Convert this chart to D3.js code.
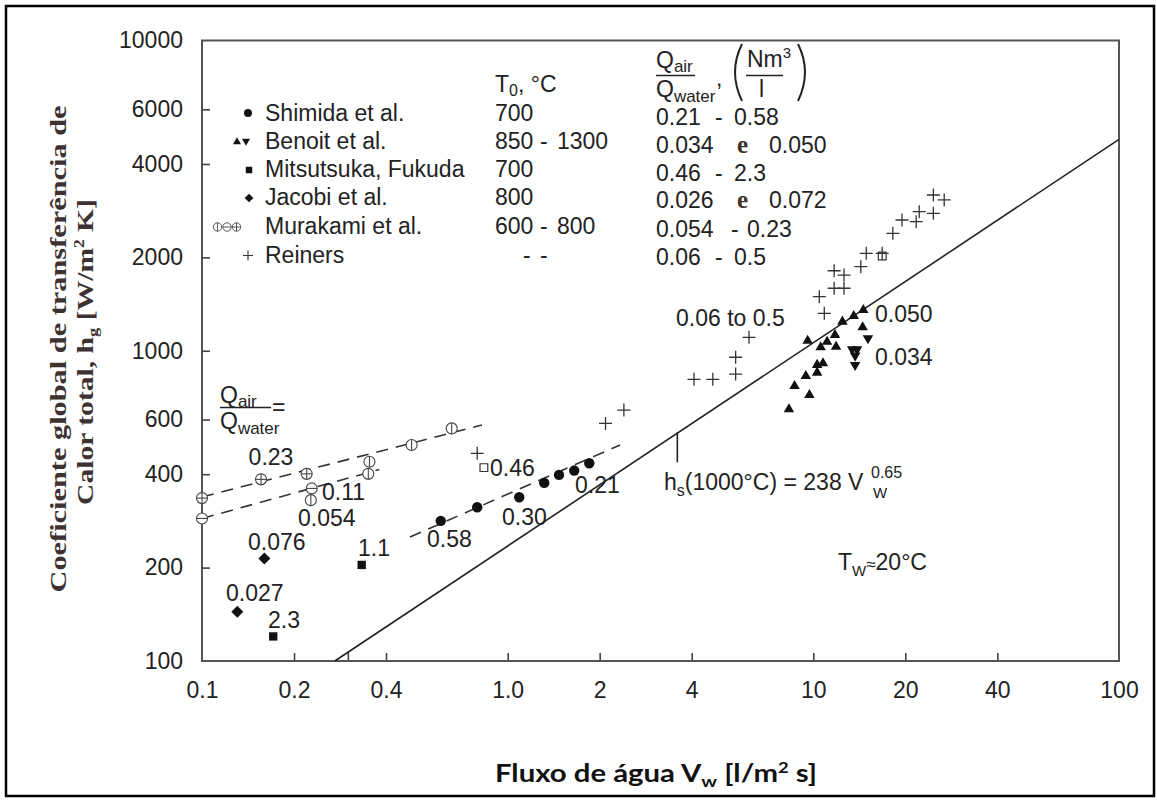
<!DOCTYPE html>
<html><head><meta charset="utf-8">
<script src="https://cdn.jsdelivr.net/npm/d3@7"></script>
<style>body{margin:0;background:#fff} svg{display:block}</style>
</head><body>
<svg id="c" width="1157" height="801"></svg>
<script>
// ---------------- data ----------------
const xTickValues = [0.2, 0.3, 0.4, 1, 2, 4, 10, 20, 40];
const xLabelValues = [0.1, 0.2, 0.4, 1, 2, 4, 10, 20, 40, 100];
const xLabelTexts = ["0.1", "0.2", "0.4", "1.0", "2", "4", "10", "20", "40", "100"];
const yTickValues = [200, 400, 600, 1000, 2000, 4000, 6000];
const yLabelValues = [100, 200, 400, 600, 1000, 2000, 4000, 6000, 10000];

const shimida = [[0.604,283],[0.795,313],[1.091,337],[1.317,375],[1.472,398],[1.651,411],[1.849,434]];
const benoitUp = [[8.32,648],[8.68,770],[9.71,720],[9.45,829],[9.58,1077],[10.29,850],[10.29,900],[10.75,911],
  [10.57,1026],[11.09,1069],[11.77,1124],[11.87,1030],[12.45,1241],[13.56,1294],[14.57,1353],[14.5,1190]];
const benoitDown = [[15.09,1097],[13.4,1010],[13.9,1010],[13.7,965],[13.7,900]];
const mitsutsuka = [[0.333,204],[0.171,120]];
const mitsutsukaOpen = [[0.836,420],[16.8,2020]];
const jacobi = [[0.16,214],[0.1305,144]];
const murakamiPlus = [[0.1,335],[0.156,385],[0.22,401]];
const murakamiMinus = [[0.1,288],[0.2285,360]];
const murakamiBar = [[0.227,330],[0.353,439],[0.35,401],[0.485,497],[0.656,562]];
const reiners = [[0.795,467],[2.09,583],[2.40,644],[4.07,809],[4.69,809],[5.57,841],[5.57,953],[6.16,1105],
  [10.86,1320],[10.46,1494],[11.7,1590],[12.6,1590],[11.7,1811],[12.6,1754],[14.3,1866],[14.9,2061],[16.8,2061],
  [18.2,2391],[19.5,2639],[21.7,2606],[22.2,2807],[24.7,2773],[24.7,3177],[26.8,3062]];

const murakamiLineUpper = [[0.1,338],[0.824,576]];
const murakamiLineLower = [[0.1,288],[0.38,414]];
const shimidaLine = [[0.479,251],[2.33,497]];
const correlationLine = [[0.272,100],[100,4800]];
const correlationMarker = 3.59;   // V_w where the label leader meets the line
const correlationMarkerValue = 546;

// ---------------- drawing ----------------
const svg = d3.select("#c");
const FONT = "'Liberation Sans', Arial, Helvetica, sans-serif";
const SERIF = "'Liberation Serif', 'Times New Roman', serif";
const INK = "#222";
const x = d3.scaleLog().domain([0.1, 100]).range([202, 1119]);
const y = d3.scaleLog().domain([100, 10000]).range([661, 40.5]);

// outer border
svg.append("rect").attr("x", 6).attr("y", 6).attr("width", 1148).attr("height", 790)
  .attr("fill", "none").attr("stroke", "#000").attr("stroke-width", 2.5);

// frame
svg.append("rect").attr("x", x(0.1)).attr("y", y(10000))
  .attr("width", x(100) - x(0.1)).attr("height", y(100) - y(10000))
  .attr("fill", "none").attr("stroke", "#555").attr("stroke-width", 2);

// ticks
const gx = svg.append("g").attr("transform", `translate(0,${y(100)})`)
  .call(d3.axisBottom(x).tickValues(xTickValues).tickSize(-8).tickFormat(() => ""));
const gy = svg.append("g").attr("transform", `translate(${x(0.1)},0)`)
  .call(d3.axisLeft(y).tickValues(yTickValues).tickSize(-8).tickFormat(() => ""));
[gx, gy].forEach(g => { g.select(".domain").remove(); g.selectAll("line").attr("stroke", "#444").attr("stroke-width", 1.6); });

// tick labels
const lx = svg.append("g").attr("transform", `translate(0,${y(100)})`)
  .call(d3.axisBottom(x).tickValues(xLabelValues).tickSize(0).tickPadding(21).tickFormat((d, i) => xLabelTexts[i]));
const ly = svg.append("g").attr("transform", `translate(${x(0.1)},0)`)
  .call(d3.axisLeft(y).tickValues(yLabelValues).tickSize(0).tickPadding(19).tickFormat(d3.format("d")));
[lx, ly].forEach(g => { g.select(".domain").remove();
  g.selectAll("text").attr("font-family", FONT).attr("font-size", 23).attr("fill", INK); });

// lines
const line = d3.line().x(d => x(d[0])).y(d => y(d[1]));
svg.append("path").datum(correlationLine).attr("d", line).attr("fill", "none").attr("stroke", "#222").attr("stroke-width", 1.6);
[murakamiLineUpper, murakamiLineLower, shimidaLine].forEach(l =>
  svg.append("path").datum(l).attr("d", line).attr("fill", "none").attr("stroke", "#333")
    .attr("stroke-width", 1.6).attr("stroke-dasharray", "12,8"));
// leader
svg.append("line").attr("x1", x(correlationMarker)).attr("x2", x(correlationMarker))
  .attr("y1", y(correlationMarkerValue)).attr("y2", y(correlationMarkerValue) + 30)
  .attr("stroke", "#222").attr("stroke-width", 1.6);

// markers
function sym(data, type, size, opts = {}) {
  svg.append("g").selectAll("path").data(data).join("path")
    .attr("d", d3.symbol().type(type).size(size))
    .attr("transform", d => `translate(${x(d[0])},${y(d[1])})` + (opts.rot ? ` rotate(${opts.rot})` : ""))
    .attr("fill", opts.fill || "#111").attr("stroke", opts.stroke || "none").attr("stroke-width", opts.sw || 0);
}
sym(shimida, d3.symbolCircle, 85);
sym(benoitUp, d3.symbolTriangle, 48);
sym(benoitDown, d3.symbolTriangle, 48, {rot: 180});
sym(mitsutsuka, d3.symbolSquare, 70);
sym(mitsutsukaOpen, d3.symbolSquare, 60, {fill: "#fff", stroke: "#333", sw: 1.2});
sym(jacobi, d3.symbolSquare, 72, {rot: 45});

function ringMarker(g, cx, cy, r, kind, sw) {
  g.append("circle").attr("cx", cx).attr("cy", cy).attr("r", r).attr("fill", "#fff").attr("stroke", "#444").attr("stroke-width", sw);
  if (kind === "plus" || kind === "minus")
    g.append("line").attr("x1", cx - r).attr("x2", cx + r).attr("y1", cy).attr("y2", cy).attr("stroke", "#444").attr("stroke-width", sw);
  if (kind === "plus" || kind === "bar")
    g.append("line").attr("x1", cx).attr("x2", cx).attr("y1", cy - r).attr("y2", cy + r).attr("stroke", "#444").attr("stroke-width", sw);
}
const gm = svg.append("g");
murakamiPlus.forEach(d => ringMarker(gm, x(d[0]), y(d[1]), 5.5, "plus", 1.1));
murakamiMinus.forEach(d => ringMarker(gm, x(d[0]), y(d[1]), 5.5, "minus", 1.1));
murakamiBar.forEach(d => ringMarker(gm, x(d[0]), y(d[1]), 5.5, "bar", 1.1));

svg.append("g").selectAll("path").data(reiners).join("path")
  .attr("d", "M-6.5,0H6.5M0,-6.5V6.5")
  .attr("transform", d => `translate(${x(d[0])},${y(d[1])})`)
  .attr("stroke", "#333").attr("stroke-width", 1.3).attr("fill", "none");

// ---------------- text helpers ----------------
function txt(xp, yp, parts, opts = {}) {
  const t = svg.append("text").attr("x", xp).attr("y", yp)
    .attr("font-family", opts.family || FONT).attr("font-size", opts.size || 23)
    .attr("fill", opts.fill || INK).attr("text-anchor", opts.anchor || "start");
  if (opts.weight) t.attr("font-weight", opts.weight);
  if (typeof parts === "string") { t.text(parts); return t; }
  let shift = 0;
  parts.forEach(p => {
    const s = t.append("tspan").text(p.t);
    const want = p.dy || 0;
    s.attr("dy", want - shift); shift = want;
    if (p.size) s.attr("font-size", p.size);
    if (p.dx) s.attr("dx", p.dx);
  });
  return t;
}

// legend
const legendNames = ["Shimida et al.", "Benoit et al.", "Mitsutsuka, Fukuda", "Jacobi et al.", "Murakami et al.", "Reiners"];
const legendRows = [121, 149, 177, 205, 234, 263];
legendNames.forEach((n, i) => txt(265, legendRows[i], n));
// legend markers
const gl = svg.append("g");
gl.append("path").attr("d", d3.symbol().type(d3.symbolCircle).size(50)).attr("transform", "translate(248,113)").attr("fill", "#111");
gl.append("path").attr("d", d3.symbol().type(d3.symbolTriangle).size(28)).attr("transform", "translate(237,142)").attr("fill", "#111");
gl.append("path").attr("d", d3.symbol().type(d3.symbolTriangle).size(28)).attr("transform", "translate(246,141) rotate(180)").attr("fill", "#111");
gl.append("path").attr("d", d3.symbol().type(d3.symbolSquare).size(42)).attr("transform", "translate(249,170)").attr("fill", "#111");
gl.append("path").attr("d", d3.symbol().type(d3.symbolSquare).size(38)).attr("transform", "translate(249,198) rotate(45)").attr("fill", "#111");
ringMarker(gl, 217.5, 227, 4.2, "bar", 0.9);
ringMarker(gl, 227, 227, 4.2, "minus", 0.9);
ringMarker(gl, 236.5, 227, 4.2, "plus", 0.9);
gl.append("path").attr("d", "M243,255.5H253M248,250.5V260.5").attr("stroke", "#333").attr("stroke-width", 1.1);

// T0 column
txt(495, 92, [{t: "T"}, {t: "0", size: 16, dy: 4}, {t: ", °C", dy: 0}]);
txt(495, 121, "700");
txt(495, 149, "850"); txt(540, 149, "-"); txt(557, 149, "1300");
txt(495, 177, "700");
txt(495, 205, "800");
txt(495, 234, "600"); txt(540, 234, "-"); txt(557, 234, "800");
txt(523, 263, "-"); txt(540, 263, "-");

// Q column header
txt(656, 68, [{t: "Q"}, {t: "air", size: 17, dy: 4}]);
svg.append("line").attr("x1", 656).attr("x2", 695).attr("y1", 75.5).attr("y2", 75.5).attr("stroke", INK).attr("stroke-width", 1.4);
txt(656, 97, [{t: "Q"}, {t: "water", size: 17, dy: 5}]);
txt(716, 86, ",");
svg.append("path").attr("d", "M742,44 Q728,72 742,101").attr("fill", "none").attr("stroke", INK).attr("stroke-width", 2);
svg.append("path").attr("d", "M798,44 Q812,72 798,101").attr("fill", "none").attr("stroke", INK).attr("stroke-width", 2);
txt(747, 67, [{t: "Nm"}, {t: "3", size: 15, dy: -9}]);
svg.append("line").attr("x1", 746).attr("x2", 783).attr("y1", 75.5).attr("y2", 75.5).attr("stroke", INK).attr("stroke-width", 1.4);
txt(759, 97, "l");

txt(656, 125, "0.21"); txt(715, 125, "-"); txt(734, 125, "0.58");
txt(656, 153, "0.034"); txt(737, 153, "e", {family: SERIF, weight: "bold", fill: "#40342a", size: 25}); txt(769, 153, "0.050");
txt(656, 181, "0.46"); txt(715, 181, "-"); txt(734, 181, "2.3");
txt(656, 208, "0.026"); txt(737, 208, "e", {family: SERIF, weight: "bold", fill: "#40342a", size: 25}); txt(769, 208, "0.072");
txt(656, 237, "0.054"); txt(731, 237, "-"); txt(747, 237, "0.23");
txt(656, 265, "0.06"); txt(715, 265, "-"); txt(734, 265, "0.5");

// left fraction label
txt(220, 403, [{t: "Q"}, {t: "air", size: 17, dy: 4}]);
svg.append("line").attr("x1", 220).attr("x2", 271).attr("y1", 407.5).attr("y2", 407.5).attr("stroke", INK).attr("stroke-width", 1.4);
txt(272, 415, "=");
txt(220, 429, [{t: "Q"}, {t: "water", size: 17, dy: 5}]);

// data annotations
txt(271, 465, "0.23", {anchor: "middle"});
txt(322, 500, "0.11");
txt(298, 526, "0.054");
txt(248, 550, "0.076");
txt(358, 556, "1.1");
txt(226, 601, "0.027");
txt(268, 628, "2.3");
txt(427, 547, "0.58");
txt(490, 476, "0.46");
txt(502, 525, "0.30");
txt(575, 493, "0.21");
txt(676, 326, "0.06 to 0.5");
txt(875, 322, "0.050");
txt(875, 365, "0.034");
txt(838, 570, [{t: "T"}, {t: "W", size: 15, dy: 6}, {t: "≈", size: 17, dy: 0}, {t: "20°C"}]);
txt(664, 490, [{t: "h"}, {t: "s", size: 16, dy: 6}, {t: "(1000°C) = 238 V", dy: 0}]);
txt(871, 478, "0.65", {size: 16});
txt(873, 498, "W", {size: 15});

// axis titles
svg.append("text").attr("transform", "translate(66,349) rotate(-90)")
  .attr("text-anchor", "middle").attr("font-family", SERIF).attr("font-weight", "bold")
  .attr("font-size", 24).attr("fill", "#3d3232")
  .attr("textLength", 487).attr("lengthAdjust", "spacingAndGlyphs")
  .text("Coeficiente global de transferência de");
const t2 = svg.append("text").attr("transform", "translate(93,352) rotate(-90)")
  .attr("text-anchor", "middle").attr("font-family", SERIF).attr("font-weight", "bold")
  .attr("font-size", 24).attr("fill", "#3d3232")
  .attr("textLength", 306).attr("lengthAdjust", "spacingAndGlyphs");
t2.append("tspan").text("Calor total, h");
t2.append("tspan").text("g").attr("font-size", 15).attr("dy", 5);
t2.append("tspan").text(" [W/m").attr("dy", -5);
t2.append("tspan").text("2").attr("font-size", 14).attr("dy", -9);
t2.append("tspan").text(" K]").attr("dy", 9);

const xt = svg.append("text").attr("x", 656).attr("y", 782).attr("text-anchor", "middle")
  .attr("font-family", "Lato, 'Open Sans', sans-serif").attr("font-weight", 700).attr("font-size", 24)
  .attr("fill", "#111").attr("textLength", 322).attr("lengthAdjust", "spacingAndGlyphs");
xt.append("tspan").text("Fluxo de água V");
xt.append("tspan").text("w").attr("font-size", 16).attr("dy", 5);
xt.append("tspan").text("  [l/m").attr("dy", -5);
xt.append("tspan").text("2").attr("font-size", 15).attr("dy", -9);
xt.append("tspan").text(" s]").attr("dy", 9);
</script>
</body></html>
